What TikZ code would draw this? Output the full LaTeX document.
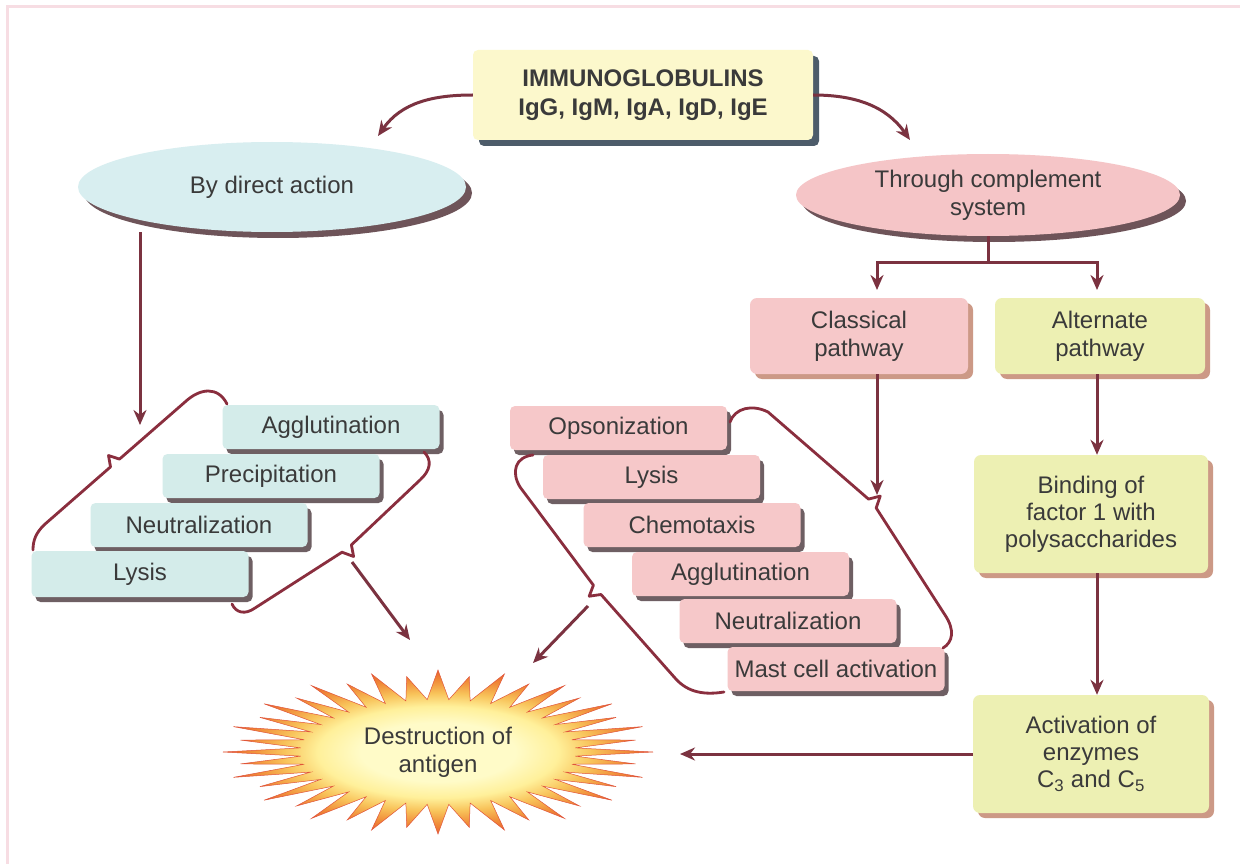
\documentclass[tikz,border=0pt]{standalone}
\usepackage{fontspec}
\setmainfont{Liberation Sans}
\usetikzlibrary{shapes.geometric,arrows.meta,shadows,calc}
\definecolor{cyanbox}{HTML}{D4ECEA}
\definecolor{cyanell}{HTML}{D8EEF0}
\definecolor{pinkbox}{HTML}{F6C8C9}
\definecolor{pinkell}{HTML}{F5C5C7}
\definecolor{yelgreen}{HTML}{EDF0B3}
\definecolor{titlefill}{HTML}{FCF8CC}
\definecolor{arrc}{HTML}{7B3240}
\definecolor{bracec}{HTML}{8A2E3E}
\definecolor{textc}{HTML}{3A3A3A}
\definecolor{shadc}{HTML}{3E2A2F}
\definecolor{ellshad}{HTML}{4A2A30}
\definecolor{titleshad}{HTML}{2F4050}
\definecolor{tanshad}{HTML}{C08068}
\definecolor{framec}{HTML}{F7DDE3}
\definecolor{bA}{HTML}{FFFBC8}
\definecolor{bB}{HTML}{FFF09A}
\definecolor{bC}{HTML}{F8C35A}
\definecolor{bD}{HTML}{F08A38}
\definecolor{bE}{HTML}{E2482A}
\definecolor{burstedge}{HTML}{E0553A}
\pgfdeclareradialshading{burst}{\pgfpoint{0bp}{0bp}}{color(0bp)=(bA); color(9bp)=(bA); color(14bp)=(bB); color(18bp)=(bC); color(22bp)=(bD); color(27bp)=(bE); color(50bp)=(bE)}
\begin{document}
\begin{tikzpicture}[x=1pt,y=-1pt,
  every node/.style={font=\fontsize{24}{28}\selectfont, text=textc, align=center},
  box/.style={rectangle, rounded corners=5pt, inner sep=0pt},
  stackL/.style={box, fill=cyanbox, minimum width=217pt, minimum height=44pt,
    drop shadow={shadow xshift=4pt, shadow yshift=-5pt, fill=shadc, opacity=0.75}},
  stackR/.style={box, fill=pinkbox, minimum width=217pt, minimum height=44pt,
    drop shadow={shadow xshift=4pt, shadow yshift=-5pt, fill=shadc, opacity=0.75}},
  pathbox/.style={box, rounded corners=7pt,
    drop shadow={shadow xshift=5pt, shadow yshift=-5pt, fill=tanshad, opacity=0.8}},
  ell/.style={ellipse, inner sep=0pt,
    drop shadow={shadow xshift=6pt, shadow yshift=-6pt, fill=ellshad, opacity=0.8}},
  arr/.style={draw=arrc, line width=3pt, -{Stealth[length=15pt,width=13pt]}},
  plainline/.style={draw=arrc, line width=3pt},
  brk/.style={draw=bracec, line width=2.8pt, line join=round, line cap=round}]

\fill[white] (0,0) rectangle (1240,864);
\useasboundingbox (0,0) rectangle (1240,864);
\draw[framec, line width=3pt] (7,864) -- (7,7) -- (1240,7);

% title
\node[box, fill=titlefill, minimum width=340pt, minimum height=90pt,
  font=\fontsize{24}{29}\selectfont\bfseries,
  drop shadow={shadow xshift=6pt, shadow yshift=-6pt, fill=titleshad, opacity=0.85}]
  (igg) at (643,95) {IMMUNOGLOBULINS\\IgG, IgM, IgA, IgD, IgE};

% ellipses
\node[ell, fill=cyanell, minimum width=388pt, minimum height=90pt] (direct) at (272,187) {By direct action};
\node[ell, fill=pinkell, minimum width=384pt, minimum height=82pt] (comp) at (988,195) {Through complement\\system};

\coordinate (dtop) at (378,136);
\coordinate (ctop) at (910,140);
\draw[arr] (igg.west) to[out=180,in=55] (dtop);
\draw[arr] (igg.east) to[out=0,in=125] (ctop);

% pathway boxes
\node[pathbox, fill=pinkbox, minimum width=218pt, minimum height=76pt] (classical) at (859,336) {Classical\\pathway};
\node[pathbox, fill=yelgreen, minimum width=210pt, minimum height=76pt] (alt) at (1100,336) {Alternate\\pathway};
\node[pathbox, fill=yelgreen, minimum width=234pt, minimum height=118pt, font=\fontsize{24}{27}\selectfont] (bind) at (1091,514) {Binding of\\factor 1 with\\polysaccharides};
\node[pathbox, fill=yelgreen, minimum width=236pt, minimum height=118pt, font=\fontsize{24}{27}\selectfont] (act) at (1091,754) {Activation of\\enzymes\\C\textsubscript{3} and C\textsubscript{5}};

\coordinate (split) at (988,262);
\coordinate (clin) at (877,290);
\coordinate (altin) at (1097,290);
\draw[plainline] (comp.south) -- (split);
\draw[arr] (split) -| (clin);
\draw[arr] (split) -| (altin);
\draw[arr] (alt.south -| altin) -- (bind.north -| altin);
\draw[arr] (bind.south -| altin) -- (act.north -| altin);

% left stack
\node[stackL] (aggL) at (331,427) {Agglutination};
\node[stackL] (precL) at (271,476) {Precipitation};
\node[stackL] (neutL) at (199,525) {Neutralization};
\node[stackL, minimum height=46pt] (lysL) at (140,574) {Lysis};

% right stack
\node[stackR] (opso) at (618.5,428) {Opsonization};
\node[stackR] (lysR) at (651.5,477) {Lysis};
\node[stackR] (chemo) at (692,525) {Chemotaxis};
\node[stackR] (aggR) at (740.5,574) {Agglutination};
\node[stackR] (neutR) at (788,621) {Neutralization};
\node[stackR] (mast) at (836,669) {Mast cell activation};

% brackets
\draw[brk] (33,550) .. controls (33,540) and (36,533) .. (44,525)
  -- (110.5,466.9) -- (108.5,455.5) -- (119.5,459.1)
  -- (185,402) .. controls (200,388) and (218,386) .. (227,404);
\draw[brk] (424,452) .. controls (432,460) and (431,470) .. (420,480)
  -- (351.4,544.9) -- (353.6,556.5) -- (342,552.2)
  -- (255,608) .. controls (245,615) and (236,613) .. (232,604);
\draw[brk] (533,455) .. controls (515,457) and (511,472) .. (520,487)
  -- (593.4,585.2) -- (589.2,596.2) -- (601,594.5)
  -- (675,678) .. controls (688,693) and (705,695) .. (724,692);
\draw[brk] (730,422) .. controls (735,408) and (752,404) .. (768,412)
  -- (868.5,499.1) -- (880.2,496.1) -- (876.2,508)
  -- (945,615) .. controls (955,630) and (953,642) .. (943,648);

% arrows into brackets
\coordinate (lvtip) at (140,425);
\draw[arr] (direct.south -| lvtip) -- (lvtip);
\coordinate (rbtip) at (877,495);
\draw[arr] (classical.south -| rbtip) -- (rbtip);

% starburst
\begin{scope}[shift={(438,752)}]
\shade[shading=burst, draw=burstedge, line width=0.5pt] (0:215 and 82)
  \foreach \i [evaluate=\i as \rr using {ifthenelse(mod(\i,2)==0, 1-0.07*mod(\i/2,2), 0.64)}] in {1,...,79} {
    -- ({\i*4.5}:{215*\rr} and {82*\rr})
  } -- cycle;
\end{scope}
\node (burst) at (438,752) {Destruction of\\antigen};

\coordinate (startL) at (352,562);
\coordinate (tipL) at (410,640);
\coordinate (startR) at (588,606);
\coordinate (tipR) at (533,663);
\draw[arr] (startL) -- (tipL);
\draw[arr] (startR) -- (tipR);
\coordinate (burstR) at (680,754);
\draw[arr] (act.west) -- (burstR);
\end{tikzpicture}
\end{document}
